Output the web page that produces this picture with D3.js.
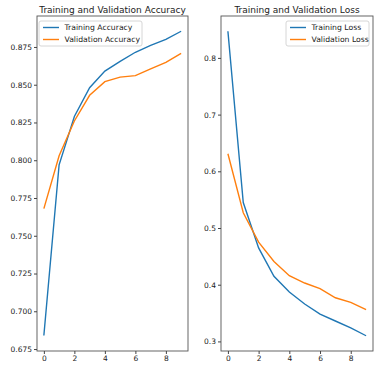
<!DOCTYPE html>
<html lang="en">
<head>
<meta charset="utf-8">
<title>Training and Validation</title>
<script src="https://d3js.org/d3.v7.min.js"></script>
<style>
  body { margin: 0; background: #fff; font-family: "DejaVu Sans", sans-serif; }
  .axis text { font-size: 7.5px; fill: #222; font-family: "DejaVu Sans", sans-serif; }
  .axis path, .axis line { stroke: #444; }
</style>
</head>
<body>
<div class="chart"></div>
<script>
const epochs = [0, 1, 2, 3, 4, 5, 6, 7, 8, 9];
const trainAcc = [0.684, 0.797, 0.829, 0.848, 0.859, 0.8655, 0.8715, 0.876, 0.880, 0.8854];
const valAcc   = [0.768, 0.803, 0.826, 0.843, 0.852, 0.855, 0.856, 0.8605, 0.8648, 0.8708];
const trainLoss = [0.847, 0.545, 0.465, 0.415, 0.387, 0.366, 0.348, 0.336, 0.324, 0.310];
const valLoss   = [0.631, 0.527, 0.475, 0.441, 0.416, 0.403, 0.393, 0.377, 0.369, 0.356];
const xTicks = [0, 2, 4, 6, 8];
const accTicks = [0.675, 0.700, 0.725, 0.750, 0.775, 0.800, 0.825, 0.850, 0.875];
const lossTicks = [0.3, 0.4, 0.5, 0.6, 0.7, 0.8];

const W = 388, H = 371;
const blue = "#1f77b4", orange = "#ff7f0e";

const svg = d3.select(".chart").append("svg")
    .attr("width", W).attr("height", H);

function panel(opts) {
    const x = d3.scaleLinear().domain([-0.45, 9.45]).range([opts.left, opts.right]);
    const y = d3.scaleLinear().domain(opts.yDomain).range([opts.bottom, opts.top]);

    // frame
    svg.append("rect")
        .attr("x", opts.left).attr("y", opts.top)
        .attr("width", opts.right - opts.left).attr("height", opts.bottom - opts.top)
        .attr("fill", "none").attr("stroke", "#555").attr("stroke-width", 0.9);

    svg.append("g").attr("class", "axis")
        .attr("transform", `translate(0,${opts.bottom})`)
        .call(d3.axisBottom(x).tickValues(xTicks).tickSize(3).tickPadding(2).tickFormat(d3.format("d")))
        .call(g => g.select(".domain").remove());

    svg.append("g").attr("class", "axis")
        .attr("transform", `translate(${opts.left},0)`)
        .call(d3.axisLeft(y).tickValues(opts.ticks).tickSize(3).tickPadding(2).tickFormat(opts.fmt))
        .call(g => g.select(".domain").remove());

    const line = d3.line().x((d, i) => x(epochs[i])).y(d => y(d));
    opts.series.forEach(s => {
        svg.append("path").datum(s.values)
            .attr("fill", "none").attr("stroke", s.color)
            .attr("stroke-width", 1.4).attr("d", line);
    });

    svg.append("text")
        .attr("x", (opts.left + opts.right) / 2).attr("y", 13)
        .attr("text-anchor", "middle").attr("font-size", 9).attr("fill", "#222")
        .text(opts.title);

    // legend
    const lg = svg.append("g").attr("transform", `translate(${opts.legendX},21)`);
    lg.append("rect").attr("width", opts.legendW).attr("height", 25)
        .attr("rx", 2).attr("fill", "#fff").attr("fill-opacity", 0.8)
        .attr("stroke", "#ccc").attr("stroke-width", 0.8);
    opts.series.forEach((s, i) => {
        lg.append("line").attr("x1", 4).attr("x2", 20)
            .attr("y1", 6.5 + i * 12).attr("y2", 6.5 + i * 12)
            .attr("stroke", s.color).attr("stroke-width", 1.4);
        lg.append("text").attr("x", 25.5).attr("y", 9.3 + i * 12)
            .attr("font-size", 7.7).attr("fill", "#222").text(s.name);
    });
}

panel({
    left: 37, right: 188, top: 16, bottom: 351,
    yDomain: [0.6737, 0.8955], ticks: accTicks, fmt: d3.format(".3f"),
    title: "Training and Validation Accuracy",
    legendX: 39, legendW: 103,
    series: [{ name: "Training Accuracy", values: trainAcc, color: blue },
             { name: "Validation Accuracy", values: valAcc, color: orange }]
});

panel({
    left: 221, right: 373, top: 16, bottom: 351,
    yDomain: [0.2831, 0.8739], ticks: lossTicks, fmt: d3.format(".1f"),
    title: "Training and Validation Loss",
    legendX: 286, legendW: 83,
    series: [{ name: "Training Loss", values: trainLoss, color: blue },
             { name: "Validation Loss", values: valLoss, color: orange }]
});
</script>
</body>
</html>
